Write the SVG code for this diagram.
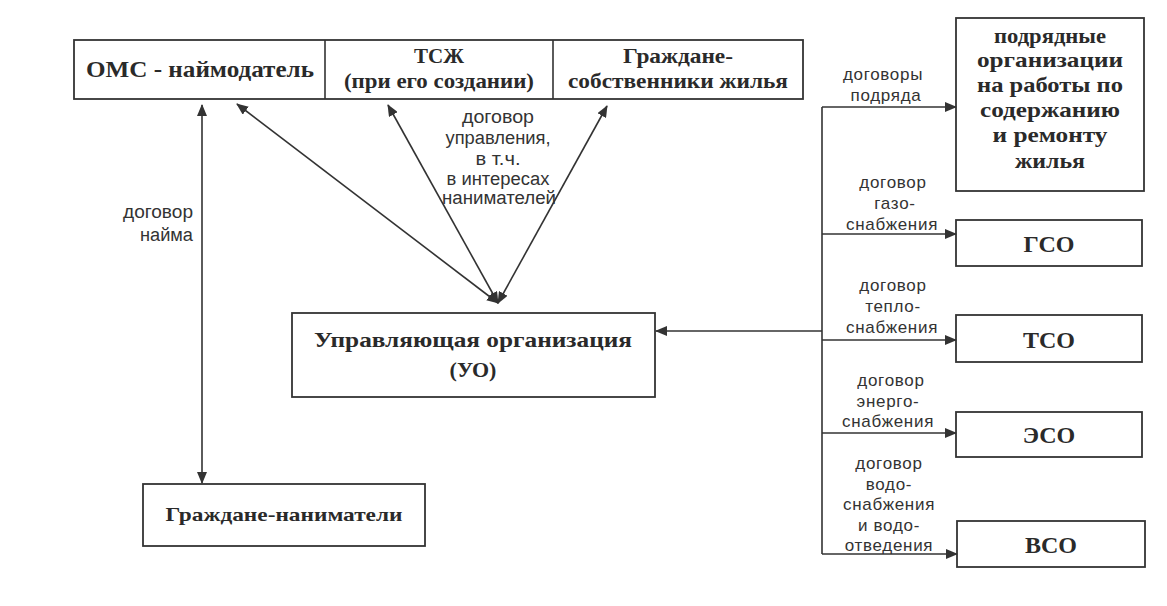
<svg xmlns="http://www.w3.org/2000/svg" width="1167" height="606" viewBox="0 0 1167 606">
<style>
.box{fill:#fff;stroke:#333;stroke-width:1.8}
.h{font-family:"Liberation Serif","Times New Roman",serif;font-weight:bold;fill:#2a2a2a;text-anchor:middle}
.l{font-family:"Liberation Sans Narrow","Liberation Sans",Arial,sans-serif;fill:#333;font-size:18px}
.r{font-family:"Liberation Sans",Arial,sans-serif;fill:#333;font-size:17px;letter-spacing:0.7px}
.c{stroke:#333;stroke-width:1.6;fill:none}
</style>
<defs>
<marker id="ar" viewBox="0 0 12 10" refX="11" refY="5" markerWidth="12" markerHeight="10" markerUnits="userSpaceOnUse" orient="auto-start-reverse">
<path d="M0,0 L12,5 L0,10 z" fill="#333"/>
</marker>
</defs>
<rect width="1167" height="606" fill="#fff"/>

<g id="top-row">
<rect class="box" x="74" y="40" width="729" height="59"/>
<line x1="325" y1="40" x2="325" y2="99" stroke="#333" stroke-width="1.6"/>
<line x1="553" y1="40" x2="553" y2="99" stroke="#333" stroke-width="1.6"/>
</g>
<g id="node-oms">
<text class="h" x="200" y="77" font-size="23" textLength="228" lengthAdjust="spacingAndGlyphs">ОМС - наймодатель</text>
</g>
<g id="node-tszh">
<text class="h" x="439" y="63" font-size="21">ТСЖ</text>
<text class="h" x="439" y="88" font-size="21" textLength="190" lengthAdjust="spacingAndGlyphs">(при его создании)</text>
</g>
<g id="node-owners">
<text class="h" x="678" y="63" font-size="21" textLength="110" lengthAdjust="spacingAndGlyphs">Граждане-</text>
<text class="h" x="678" y="88" font-size="21" textLength="220" lengthAdjust="spacingAndGlyphs">собственники жилья</text>
</g>

<g id="node-uo">
<rect class="box" x="292" y="313" width="363" height="84"/>
<text class="h" x="473" y="347" font-size="22" textLength="318" lengthAdjust="spacingAndGlyphs">Управляющая организация</text>
<text class="h" x="473" y="377" font-size="22">(УО)</text>
</g>

<g id="node-tenants">
<rect class="box" x="143" y="484" width="282" height="62"/>
<text class="h" x="284" y="521" font-size="19" textLength="237" lengthAdjust="spacingAndGlyphs">Граждане-наниматели</text>
</g>

<g id="node-contractors">
<rect class="box" x="956" y="18" width="188" height="173"/>
<text class="h" x="1050" y="43" font-size="21" textLength="112" lengthAdjust="spacingAndGlyphs">подрядные</text>
<text class="h" x="1050" y="67" font-size="21" textLength="146" lengthAdjust="spacingAndGlyphs">организации</text>
<text class="h" x="1050" y="92" font-size="21" textLength="146" lengthAdjust="spacingAndGlyphs">на работы по</text>
<text class="h" x="1050" y="117" font-size="21" textLength="140" lengthAdjust="spacingAndGlyphs">содержанию</text>
<text class="h" x="1050" y="142" font-size="21" textLength="115" lengthAdjust="spacingAndGlyphs">и ремонту</text>
<text class="h" x="1050" y="168" font-size="21" textLength="70" lengthAdjust="spacingAndGlyphs">жилья</text>
</g>
<g id="node-gso">
<rect class="box" x="956" y="220" width="186" height="46"/>
<text class="h" x="1049" y="252" font-size="24">ГСО</text>
</g>
<g id="node-tso">
<rect class="box" x="956" y="315" width="186" height="47"/>
<text class="h" x="1049" y="348" font-size="24">ТСО</text>
</g>
<g id="node-eso">
<rect class="box" x="956" y="412" width="186" height="45"/>
<text class="h" x="1049" y="443" font-size="24">ЭСО</text>
</g>
<g id="node-vso">
<rect class="box" x="957" y="521" width="188" height="46"/>
<text class="h" x="1051" y="553" font-size="24">ВСО</text>
</g>

<g id="connectors">
<line class="c" x1="202" y1="105" x2="202" y2="483" marker-start="url(#ar)" marker-end="url(#ar)"/>
<line class="c" x1="498" y1="303" x2="237" y2="104" marker-start="url(#ar)" marker-end="url(#ar)"/>
<line class="c" x1="498" y1="303" x2="388" y2="105" marker-start="url(#ar)" marker-end="url(#ar)"/>
<line class="c" x1="498" y1="303" x2="607" y2="106" marker-start="url(#ar)" marker-end="url(#ar)"/>
<line class="c" x1="822" y1="107" x2="822" y2="554"/>
<line class="c" x1="822" y1="331" x2="656" y2="331" marker-end="url(#ar)"/>
<line class="c" x1="822" y1="107" x2="956" y2="107" marker-end="url(#ar)"/>
<line class="c" x1="822" y1="234" x2="956" y2="234" marker-end="url(#ar)"/>
<line class="c" x1="822" y1="340" x2="956" y2="340" marker-end="url(#ar)"/>
<line class="c" x1="822" y1="433" x2="956" y2="433" marker-end="url(#ar)"/>
<line class="c" x1="822" y1="554" x2="957" y2="554" marker-end="url(#ar)"/>
</g>

<g id="labels">
<text class="l" text-anchor="end" x="193" y="218" textLength="70" lengthAdjust="spacingAndGlyphs">договор</text>
<text class="l" text-anchor="end" x="193" y="241" textLength="53" lengthAdjust="spacingAndGlyphs">найма</text>

<g text-anchor="middle">
<text class="l" x="498" y="123" textLength="72" lengthAdjust="spacingAndGlyphs">договор</text>
<text class="l" x="498" y="144" textLength="105" lengthAdjust="spacingAndGlyphs">управления,</text>
<text class="l" x="498" y="165" textLength="45" lengthAdjust="spacingAndGlyphs">в т.ч.</text>
<text class="l" x="498" y="185" textLength="103" lengthAdjust="spacingAndGlyphs">в интересах</text>
<text class="l" x="499" y="204" textLength="114" lengthAdjust="spacingAndGlyphs">нанимателей</text>

<text class="r" x="883" y="80">договоры</text>
<text class="r" x="886" y="101">подряда</text>

<text class="r" x="893" y="188">договор</text>
<text class="r" x="895" y="209">газо-</text>
<text class="r" x="892" y="230">снабжения</text>

<text class="r" x="893" y="291">договор</text>
<text class="r" x="893" y="312">тепло-</text>
<text class="r" x="892" y="333">снабжения</text>

<text class="r" x="891" y="386">договор</text>
<text class="r" x="888" y="407">энерго-</text>
<text class="r" x="888" y="427">снабжения</text>

<text class="r" x="889" y="469">договор</text>
<text class="r" x="889" y="490">водо-</text>
<text class="r" x="889" y="510">снабжения</text>
<text class="r" x="889" y="531">и водо-</text>
<text class="r" x="889" y="551">отведения</text>
</g>
</g>
</svg>
